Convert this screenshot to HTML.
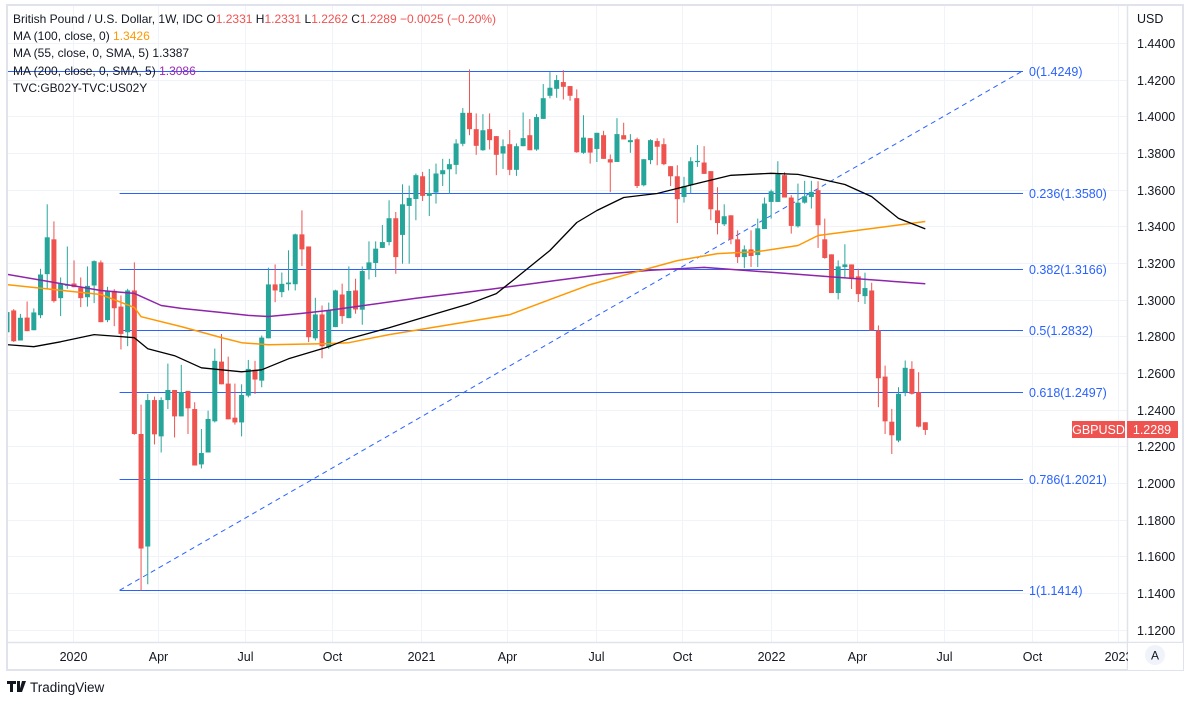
<!DOCTYPE html>
<html><head><meta charset="utf-8">
<style>
html,body{margin:0;padding:0;background:#fff;width:1184px;height:702px;overflow:hidden;font-family:"Liberation Sans",sans-serif;}
svg{display:block}
.lg{font-size:12px;fill:#131722}
.ax{font-size:12.5px;fill:#131722}
.fib{font-size:12.5px;fill:#2962ff}
</style></head><body>
<svg id="chart" width="1184" height="702" viewBox="0 0 1184 702" xmlns="http://www.w3.org/2000/svg">
<defs><clipPath id="plotclip"><rect x="8" y="6" width="1119" height="636"/></clipPath></defs>
<rect x="0" y="0" width="1184" height="702" fill="#fff"/>
<g id="grid"></g>
<g id="plot" clip-path="url(#plotclip)"></g>
<rect x="7" y="5" width="1176" height="665" fill="none" stroke="#e0e3eb" stroke-width="2"/>
<line x1="1127.5" y1="5" x2="1127.5" y2="670" stroke="#e0e3eb" stroke-width="1.5"/>
<line x1="7" y1="642.5" x2="1183" y2="642.5" stroke="#e0e3eb" stroke-width="1.5"/>
<g id="yaxis"></g>
<g id="xaxis"></g>
<text x="1137" y="23" class="ax">USD</text>
<g>
<text x="13" y="23" class="lg">British Pound / U.S. Dollar, 1W, IDC  <tspan fill="#131722">O</tspan><tspan fill="#ef5350">1.2331</tspan>  <tspan>H</tspan><tspan fill="#ef5350">1.2331</tspan>  <tspan>L</tspan><tspan fill="#ef5350">1.2262</tspan>  <tspan>C</tspan><tspan fill="#ef5350">1.2289</tspan>  <tspan fill="#ef5350">−0.0025 (−0.20%)</tspan></text>
<text x="13" y="40" class="lg">MA (100, close, 0) <tspan fill="#ff9800">1.3426</tspan></text>
<text x="13" y="57" class="lg">MA (55, close, 0, SMA, 5) <tspan fill="#131722">1.3387</tspan></text>
<text x="13" y="75" class="lg">MA (200, close, 0, SMA, 5) <tspan fill="#9c27b0">1.3086</tspan></text>
<text x="13" y="92" class="lg">TVC:GB02Y-TVC:US02Y</text>
</g>
<g>
<rect x="1072" y="421" width="53" height="17" fill="#ef5350"/>
<text x="1098.5" y="434" text-anchor="middle" font-size="12.5" fill="#fff">GBPUSD</text>
<rect x="1127" y="421" width="51" height="17" fill="#ef5350"/>
<text x="1152" y="434" text-anchor="middle" font-size="12.5" fill="#fff">1.2289</text>
</g>
<circle cx="1155" cy="655" r="10" fill="#f0f3fa"/>
<text x="1155" y="659.5" text-anchor="middle" font-size="12" fill="#131722">A</text>
<g>
<path d="M7 681h9v3h-3v8h-3v-8h-3z M17 681h3v11h-3z M22 681h4l-4 11h-3z" fill="#131722"/>
<text x="30" y="692" font-size="13.5" fill="#131722">TradingView</text>
</g>
</svg>
<script>
const opens=[1.2822,1.2941,1.2777,1.2902,1.2833,1.2915,1.3139,1.3329,1.3008,1.3075,1.3088,1.3065,1.3013,1.3077,1.3203,1.2888,1.3048,1.2962,1.2822,1.3050,1.2267,1.1653,1.2452,1.2254,1.2452,1.2507,1.2363,1.2502,1.2403,1.2101,1.2166,1.2336,1.2662,1.2542,1.2356,1.2330,1.2476,1.2618,1.2558,1.2789,1.3083,1.3041,1.3084,1.3084,1.3356,1.3290,1.2789,1.2919,1.2740,1.2850,1.3028,1.2899,1.3050,1.2945,1.3163,1.3200,1.3282,1.3314,1.3444,1.3353,1.3511,1.3549,1.3673,1.3566,1.3584,1.3684,1.3711,1.3735,1.3850,1.4019,1.3930,1.3815,1.3930,1.3892,1.3797,1.3848,1.3708,1.3837,1.3897,1.3819,1.3986,1.4112,1.4150,1.4187,1.4165,1.4099,1.3801,1.3881,1.3822,1.3897,1.3766,1.3751,1.3897,1.3859,1.3875,1.3624,1.3761,1.3865,1.3848,1.3728,1.3673,1.3560,1.3624,1.3750,1.3748,1.3701,1.3487,1.3411,1.3460,1.3329,1.3232,1.3274,1.3243,1.3385,1.3533,1.3533,1.3679,1.3557,1.3400,1.3529,1.3560,1.3597,1.3329,1.3247,1.3036,1.3178,1.3192,1.3127,1.3019,1.3050,1.2832,1.2580,1.2334,1.2231,1.2495,1.2622,1.2495,1.2331];
const highs=[1.2935,1.2948,1.2922,1.2990,1.2952,1.3168,1.3520,1.3427,1.3121,1.3290,1.3214,1.3121,1.3181,1.3214,1.3214,1.3070,1.3057,1.3023,1.3059,1.3203,1.2427,1.2485,1.2471,1.2467,1.2651,1.2507,1.2644,1.2502,1.2440,1.2294,1.2394,1.2733,1.2813,1.2689,1.2542,1.2538,1.2671,1.2666,1.2804,1.3174,1.3192,1.3148,1.3269,1.3360,1.3487,1.3290,1.3010,1.2968,1.2984,1.3054,1.3087,1.3181,1.3114,1.3181,1.3318,1.3318,1.3407,1.3542,1.3478,1.3629,1.3622,1.3688,1.3697,1.3713,1.3742,1.3768,1.3768,1.3875,1.4045,1.4256,1.4016,1.4012,1.4016,1.3892,1.3874,1.3925,1.3852,1.4021,1.3985,1.4012,1.4176,1.4241,1.4225,1.4252,1.4165,1.4147,1.4006,1.3881,1.3910,1.3921,1.3792,1.3990,1.3965,1.3903,1.3884,1.3766,1.3875,1.3880,1.3880,1.3728,1.3733,1.3670,1.3777,1.3843,1.3837,1.3701,1.3613,1.3520,1.3460,1.3378,1.3296,1.3378,1.3442,1.3557,1.3600,1.3755,1.3695,1.3570,1.3633,1.3648,1.3648,1.3646,1.3442,1.3247,1.3214,1.3302,1.3192,1.3169,1.3147,1.3092,1.2859,1.2640,1.2404,1.2522,1.2668,1.2664,1.2604,1.2331];
const lows=[1.2818,1.2769,1.2777,1.2828,1.2833,1.2899,1.3059,1.2984,1.2910,1.3059,1.3068,1.2959,1.2962,1.2981,1.2877,1.2877,1.2855,1.2728,1.2746,1.2263,1.1414,1.1447,1.2210,1.2166,1.2403,1.2248,1.2363,1.2267,1.2095,1.2079,1.2166,1.2330,1.2538,1.2347,1.2318,1.2254,1.2467,1.2485,1.2522,1.2789,1.2986,1.3013,1.3050,1.3050,1.3183,1.2768,1.2777,1.2680,1.2731,1.2850,1.2868,1.2899,1.2923,1.2863,1.3110,1.3123,1.3282,1.3296,1.3141,1.3196,1.3196,1.3433,1.3538,1.3456,1.3524,1.3620,1.3578,1.3684,1.3837,1.3897,1.3790,1.3812,1.3819,1.3679,1.3713,1.3679,1.3675,1.3837,1.3815,1.3812,1.3986,1.4098,1.4101,1.4092,1.4085,1.3801,1.3795,1.3742,1.3751,1.3768,1.3586,1.3751,1.3874,1.3801,1.3609,1.3618,1.3739,1.3733,1.3733,1.3620,1.3418,1.3529,1.3579,1.3724,1.3686,1.3433,1.3356,1.3402,1.3302,1.3200,1.3172,1.3178,1.3178,1.3385,1.3442,1.3533,1.3557,1.3360,1.3393,1.3524,1.3497,1.3282,1.3223,1.3036,1.3001,1.3120,1.3058,1.2987,1.2976,1.2832,1.2413,1.2267,1.2158,1.2222,1.2473,1.2482,1.2303,1.2262];
const closes=[1.2932,1.2773,1.2901,1.2828,1.2930,1.3137,1.3340,1.2992,1.3085,1.3083,1.3068,1.3008,1.3075,1.3210,1.2877,1.3048,1.2953,1.2813,1.3050,1.2267,1.1642,1.2452,1.2265,1.2452,1.2507,1.2363,1.2496,1.2407,1.2095,1.2163,1.2349,1.2666,1.2538,1.2347,1.2330,1.2480,1.2622,1.2564,1.2793,1.3083,1.3050,1.3086,1.3093,1.3356,1.3274,1.2795,1.2919,1.2746,1.2941,1.3050,1.2910,1.3047,1.2946,1.3156,1.3203,1.3278,1.3314,1.3444,1.3232,1.3520,1.3555,1.3679,1.3566,1.3582,1.3688,1.3706,1.3739,1.3852,1.4019,1.3930,1.3839,1.3924,1.3870,1.3790,1.3837,1.3708,1.3837,1.3881,1.3815,1.3996,1.4099,1.4156,1.4198,1.4161,1.4112,1.3804,1.3884,1.3802,1.3910,1.3768,1.3748,1.3903,1.3874,1.3870,1.3620,1.3766,1.3870,1.3834,1.3739,1.3673,1.3548,1.3619,1.3755,1.3757,1.3686,1.3493,1.3418,1.3455,1.3329,1.3232,1.3274,1.3238,1.3389,1.3524,1.3591,1.3684,1.3557,1.3402,1.3529,1.3564,1.3588,1.3406,1.3227,1.3036,1.3181,1.3192,1.3112,1.3030,1.3063,1.2832,1.2571,1.2336,1.2260,1.2486,1.2628,1.2486,1.2307,1.2289];
const ma200Idx=[0,14,19,23,26,32,36,39,44,48,61,72,82,89,96,104,114,124,137];
const ma200Val=[1.3138,1.3050,1.3034,1.2968,1.2952,1.2930,1.2914,1.2908,1.2925,1.2941,1.3007,1.3056,1.3105,1.3138,1.3160,1.3176,1.3149,1.3121,1.3087];
const ma100Idx=[0,14,19,20,26,32,35,39,48,51,57,68,75,81,87,94,100,106,112,118,121,130,137];
const ma100Val=[1.3082,1.3028,1.2957,1.2907,1.2853,1.2793,1.2765,1.2754,1.2760,1.2765,1.2809,1.2875,1.2918,1.3000,1.3082,1.3153,1.3213,1.3251,1.3262,1.3295,1.3350,1.3393,1.3426];
const ma55Idx=[0,4,8,13,17,19,21,25,29,35,38,42,45,48,51,57,64,69,73,76,81,85,88,92,97,103,108,114,118,121,125,129,133,137];
const ma55Val=[1.2754,1.2743,1.2770,1.2809,1.2798,1.2792,1.2732,1.2694,1.2628,1.2606,1.2617,1.2677,1.2710,1.2743,1.2787,1.2847,1.2924,1.2978,1.3033,1.3120,1.3268,1.3421,1.3486,1.3557,1.3579,1.3634,1.3678,1.3689,1.3683,1.3661,1.3628,1.3562,1.3443,1.3386];
const fibLevels=[1.4249,1.3580,1.3166,1.2832,1.2497,1.2021,1.1414];
const fibRatios=["0","0.236","0.382","0.5","0.618","0.786","1"];
const priceTicks=[1.12,1.14,1.16,1.18,1.20,1.22,1.24,1.26,1.28,1.30,1.32,1.34,1.36,1.38,1.40,1.42,1.44];
const timeLabels=["2020","Apr","Jul","Oct","2021","Apr","Jul","Oct","2022","Apr","Jul","Oct","2023"];
const timeIdx=[9.8,22.5,35.5,48.5,61.7,74.6,87.8,100.7,114,126.8,139.8,152.9,165.8];

const NS="http://www.w3.org/2000/svg";
function yScale(p){return 43+(1.44-p)*1833;}
function xScale(i){return 7+6.703*i;}
function mk(tag,attrs,parent){const e=document.createElementNS(NS,tag);for(const k in attrs)e.setAttribute(k,attrs[k]);parent.appendChild(e);return e;}
const grid=document.getElementById('grid'),plot=document.getElementById('plot'),yaxis=document.getElementById('yaxis'),xaxis=document.getElementById('xaxis');

priceTicks.forEach(function(p){
  const y=Math.round(yScale(p))+0.5;
  const g=mk('line',{x1:8,x2:1127,y1:y,y2:y,stroke:'#f0f3fa','stroke-width':1},grid);
  
  
  const t=mk('text',{x:1137,y:y+4.5,class:'ax'},yaxis);
  t.textContent=p.toFixed(4);
  
  
});
timeLabels.forEach(function(l,k){
  const x=Math.round(xScale(timeIdx[k]))+0.5;
  if(x<1127){
    const g=mk('line',{x1:x,x2:x,y1:6,y2:642,stroke:'#f0f3fa','stroke-width':1},grid);
    
    
  }
  const t=mk('text',{x:x,y:661,'text-anchor':'middle',class:'ax'},xaxis);
  t.textContent=l;
  
  
});
const cov=mk('rect',{x:1128,y:643,width:55,height:27,fill:'#fff'},xaxis);



fibLevels.forEach(function(p,k){
  const y=Math.round(yScale(p))+0.5;
  const x0=k===0?8:xScale(16.8);
  const l=mk('line',{x1:x0,x2:1023,y1:y,y2:y,stroke:'#2962ff','stroke-width':1},plot);
  
  
  const t=mk('text',{x:1029,y:y+4.5,class:'fib'},plot);
  t.textContent=fibRatios[k]+'('+p.toFixed(4)+')';
  
  
});
const tl=mk('line',{x1:xScale(16.8),y1:yScale(fibLevels[6]),x2:1023,y2:yScale(fibLevels[0]),stroke:'#2962ff','stroke-width':1,'stroke-dasharray':'5,4'},plot);



for(let i=0;i<opens.length;i++){
  const up=closes[i]>=opens[i];
  const col=up?'#26a69a':'#ef5350';
  const x=xScale(i);
  const g=mk('g',{},plot);
  
  
  mk('line',{x1:x,x2:x,y1:yScale(highs[i]),y2:yScale(lows[i]),stroke:col,'stroke-width':1},g);
  const top=yScale(Math.max(opens[i],closes[i])),bot=yScale(Math.min(opens[i],closes[i]));
  mk('rect',{x:x-2.5,y:top,width:5,height:Math.max(1,bot-top),fill:col},g);
}
function maLine(idx,val,color,name,w){
  let d='';
  idx.forEach(function(i,k){d+=(k?'L':'M')+xScale(i).toFixed(1)+' '+yScale(val[k]).toFixed(1);});
  const p=mk('path',{d:d,fill:'none',stroke:color,'stroke-width':w,'stroke-linejoin':'round'},plot);
  
  
}
maLine(ma200Idx,ma200Val,'#8e24aa','ma200-line',1.5);
maLine(ma100Idx,ma100Val,'#ff9800','ma100-line',1.5);
maLine(ma55Idx,ma55Val,'#000000','ma55-line',1.3);
</script>
</body></html>
